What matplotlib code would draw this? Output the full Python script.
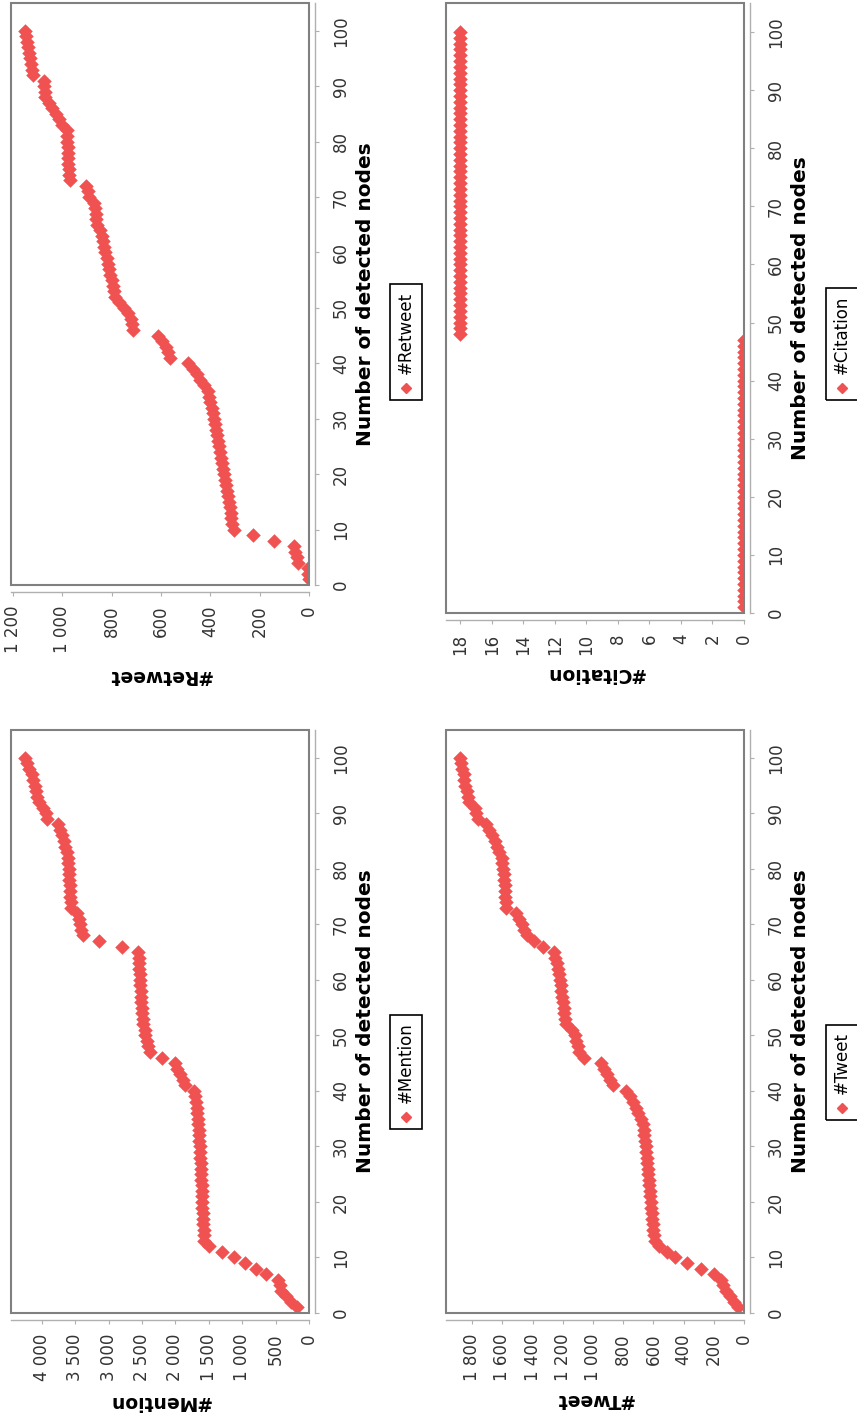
import matplotlib
matplotlib.use("Agg")
import matplotlib.pyplot as plt
from matplotlib.patches import Rectangle
from matplotlib.lines import Line2D
from matplotlib.ticker import MultipleLocator, FuncFormatter

# data: value reached after each detected node (1..100)
nodes = list(range(1, 101))

retweet = [0, 3, 6, 45, 50, 55, 60, 140, 225,
           305, 310, 315, 318, 322, 326, 330, 334, 338, 342, 346, 350, 354, 358, 362, 366,
           370, 374, 378, 382, 386, 390, 395, 400, 405, 410,
           425, 440, 455, 470, 490,
           565, 570, 580, 595, 610,
           715, 718, 722, 735, 748,
           770, 785,
           790, 795, 800, 805, 810, 815, 820, 825, 830, 835, 840, 845,
           860, 862, 865, 868, 872,
           890, 897, 905,
           970, 972, 974, 975, 976, 977, 978, 979, 980, 982,
           1000, 1012, 1025, 1040, 1055,
           1068, 1070, 1072, 1075,
           1118, 1122, 1126, 1130, 1134, 1138,
           1142, 1146, 1150]

citation = [0] * 47 + [18] * 53

mention = [175, 270, 340, 420, 440, 460, 640, 790, 960, 1120, 1300, 1500,
           1565, 1570, 1575, 1580, 1585, 1590, 1595, 1600, 1602, 1605, 1608, 1612, 1615, 1620,
           1622, 1625, 1630, 1635, 1640, 1645, 1650, 1655, 1660, 1670, 1680, 1690, 1700, 1715,
           1860, 1890, 1930, 1970, 2010,
           2200, 2380,
           2410, 2430, 2450, 2460, 2480, 2490, 2500, 2505, 2510, 2515, 2520, 2525, 2530, 2535,
           2540, 2545, 2550, 2560,
           2800, 3150,
           3390, 3410, 3430, 3450, 3470,
           3560, 3570, 3575, 3580, 3585, 3590, 3595, 3600, 3605, 3610,
           3630, 3650, 3670, 3700, 3730, 3760,
           3920, 3940, 3980,
           4050, 4070, 4090, 4110, 4130, 4150,
           4200, 4230, 4250]

tweet = [40, 65, 95, 120, 140, 155, 200, 285, 375, 455, 510, 565,
         590, 595, 600, 605, 610, 612, 615, 618, 622, 625, 628, 632, 635, 638, 642, 645, 648,
         652, 656, 660, 665, 672, 680,
         700, 715, 735, 755, 780,
         870, 885, 905, 925, 945,
         1060,
         1090, 1100, 1110, 1120, 1140,
         1180, 1185, 1190, 1195, 1200, 1205, 1210, 1215, 1220, 1228, 1235, 1242, 1250, 1260,
         1330, 1390,
         1440, 1455, 1470, 1490, 1510,
         1575, 1578, 1580, 1583, 1586, 1590, 1593, 1596, 1600, 1605,
         1620, 1635, 1650, 1670, 1690, 1710,
         1765, 1775, 1785,
         1820, 1830, 1838, 1845, 1852, 1858,
         1868, 1875, 1880]

W, H = 857, 1419
RED = "#F05252"
fig = plt.figure(figsize=(W / 100, H / 100), dpi=100)
fig.patch.set_facecolor("white")


def fig_rect(x0, y0, x1, y1):
    return [x0 / W, 1 - y1 / H, (x1 - x0) / W, (y1 - y0) / H]


def thousands(v, pos):
    return f"{int(round(v)):,}".replace(",", " ")


# (values, name, tick step, plot box in px, value-label y, node-label x, legend centre)
panels = [
    (retweet, "#Retweet", 200, (11, 3, 309, 585), 675, 366, (406, 342)),
    (citation, "#Citation", 2, (446, 3, 744, 613), 673, 800, (842, 344)),
    (mention, "#Mention", 500, (11, 730, 309, 1313), 1402, 366, (406, 1072)),
    (tweet, "#Tweet", 200, (446, 730, 744, 1313), 1400, 800, (842, 1072)),
]

legends = []
for vals, name, step, box, label_y, label_x, leg in panels:
    x0, y0, x1, y1 = box
    ax = fig.add_axes(fig_rect(*box))
    ax.scatter(vals, nodes, marker="D", s=55, color=RED, linewidths=0, zorder=3)
    ax.set_xlim(max(vals) * 1.05, 0)
    ax.set_ylim(0, 105)

    for s in ax.spines.values():
        s.set_visible(False)
    ax.spines["bottom"].set_visible(True)
    ax.spines["bottom"].set_position(("outward", 5))
    ax.spines["right"].set_visible(True)
    ax.spines["right"].set_position(("outward", 4.5))
    for s in ("bottom", "right"):
        ax.spines[s].set_color("#B0B0B0")
        ax.spines[s].set_linewidth(1)
    ax.add_patch(Rectangle((0, 0), 1, 1, transform=ax.transAxes, fill=False,
                           ec="#808080", lw=1.5, zorder=5, clip_on=False))

    ax.xaxis.set_major_locator(MultipleLocator(step))
    ax.xaxis.set_major_formatter(FuncFormatter(thousands))
    ax.yaxis.set_major_locator(MultipleLocator(10))
    ax.yaxis.tick_right()
    ax.tick_params(axis="both", direction="out", length=3, width=0.8, color="#B0B0B0",
                   labelsize=12, labelcolor="#333333", labelrotation=90)
    ax.tick_params(axis="x", pad=7)
    ax.tick_params(axis="y", pad=9)
    plt.setp(ax.get_yticklabels(), va="center")

    ax.set_xlabel(name, rotation=180, fontsize=13.5, fontweight="bold")
    ax.xaxis.set_label_coords(0.5, -(label_y - y1) / (y1 - y0))
    ax.xaxis.label.set_va("center")
    ax.yaxis.set_label_position("right")
    ax.set_ylabel("Number of detected nodes", rotation=90, fontsize=14.5, fontweight="bold")
    ax.yaxis.set_label_coords((label_x - x0) / (x1 - x0), 0.5)
    ax.yaxis.label.set_va("center")
    ax.yaxis.label.set_ha("center")
    legends.append((name, leg))

# legends, drawn rotated like the rest of the chart
renderer = fig.canvas.get_renderer()
for name, (cx, cy) in legends:
    txt = fig.text(cx / W, 0.5, name, rotation=90, ha="center", va="bottom", fontsize=12)
    tlen = txt.get_window_extent(renderer).height
    total = 7 + 10 + 9 + tlen + 7
    top, bottom = cy - total / 2, cy + total / 2
    marker_y = bottom - 12
    txt.set_position((cx / W, 1 - (marker_y - 14) / H))
    fig.add_artist(Rectangle(((cx - 16) / W, 1 - bottom / H), 32 / W, total / H,
                             transform=fig.transFigure, fill=False, ec="black", lw=1.2))
    fig.add_artist(Line2D([cx / W], [1 - marker_y / H], marker="D", ms=5.5, color=RED,
                          ls="none", transform=fig.transFigure))

fig.savefig("out.png", dpi=100, facecolor="white")
